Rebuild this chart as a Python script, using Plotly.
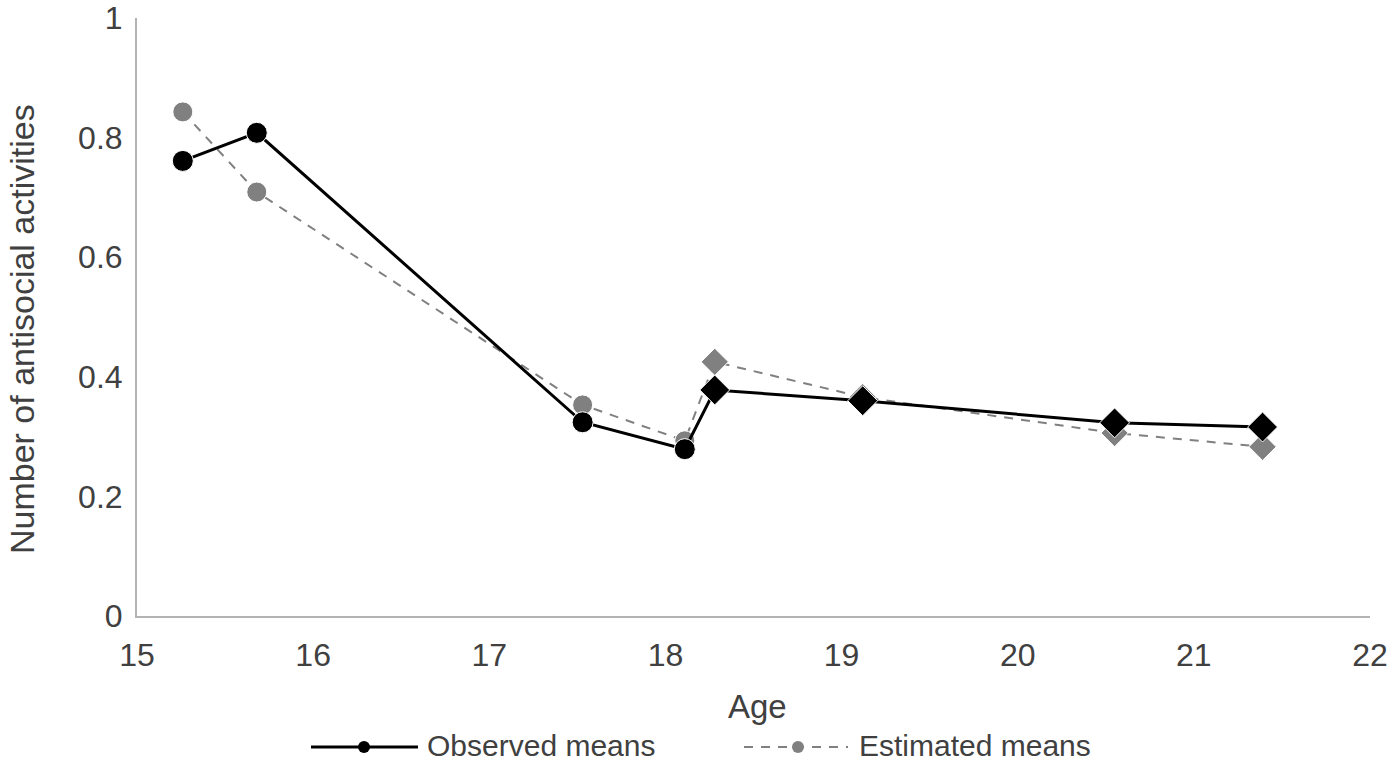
import plotly.graph_objects as go

ages = [15.26, 15.68, 17.53, 18.11, 18.28, 19.12, 20.55, 21.39]
observed = [0.761, 0.808, 0.324, 0.279, 0.378, 0.360, 0.323, 0.316]
estimated = [0.843, 0.709, 0.353, 0.293, 0.425, 0.366, 0.306, 0.283]
symbols = ["circle"] * 4 + ["diamond"] * 4
obs_sizes = [21] * 4 + [23] * 4
est_sizes = [20] * 4 + [21] * 4
x_ticks = [15, 16, 17, 18, 19, 20, 21, 22]
y_ticks = [0, 0.2, 0.4, 0.6, 0.8, 1]
y_tick_labels = ["0", "0.2", "0.4", "0.6", "0.8", "1"]
legend_labels = ["Observed means", "Estimated means"]

W, H = 1400, 764
L, R, T, B = 137, 30, 18, 148
PW, PH = W - L - R, H - T - B
FONT = "Liberation Sans, Arial, sans-serif"
TXT = "#404040"
GREY = "#808080"


def px_x(p):
    return (p - L) / PW


def px_y(p):
    return (H - B - p) / PH


fig = go.Figure()
fig.add_trace(go.Scatter(
    x=ages, y=estimated, mode="lines+markers", name=legend_labels[1],
    line=dict(color=GREY, width=2, dash="9px,8px"),
    marker=dict(color=GREY, symbol=symbols, size=est_sizes, opacity=1),
    showlegend=False,
))
fig.add_trace(go.Scatter(
    x=ages, y=observed, mode="lines+markers", name=legend_labels[0],
    line=dict(color="black", width=3),
    marker=dict(color="black", symbol=symbols, size=obs_sizes, opacity=1),
    showlegend=False,
))

shapes = []
annotations = []
ly = px_y(747)
ty = px_y(745)
# legend item 1
shapes.append(dict(type="line", xref="paper", yref="paper", x0=px_x(311), x1=px_x(418),
                   y0=ly, y1=ly, line=dict(color="black", width=3)))
shapes.append(dict(type="circle", xref="paper", yref="paper", xsizemode="pixel", ysizemode="pixel",
                   xanchor=px_x(364), yanchor=ly, x0=-6, x1=6, y0=-6, y1=6,
                   fillcolor="black", line=dict(color="black", width=0)))
annotations.append(dict(text=legend_labels[0], xref="paper", yref="paper", x=px_x(425), y=ty,
                        xanchor="left", yanchor="middle", showarrow=False,
                        font=dict(family=FONT, size=30, color=TXT)))
# legend item 2
shapes.append(dict(type="line", xref="paper", yref="paper", x0=px_x(744), x1=px_x(848),
                   y0=ly, y1=ly, line=dict(color=GREY, width=2, dash="9px,8px")))
shapes.append(dict(type="circle", xref="paper", yref="paper", xsizemode="pixel", ysizemode="pixel",
                   xanchor=px_x(798), yanchor=ly, x0=-6, x1=6, y0=-6, y1=6,
                   fillcolor=GREY, line=dict(color=GREY, width=0)))
annotations.append(dict(text=legend_labels[1], xref="paper", yref="paper", x=px_x(857), y=ty,
                        xanchor="left", yanchor="middle", showarrow=False,
                        font=dict(family=FONT, size=30, color=TXT)))
# axis titles
annotations.append(dict(text="Age", xref="paper", yref="paper", x=px_x(757), y=px_y(706),
                        xanchor="center", yanchor="middle", showarrow=False,
                        font=dict(family=FONT, size=33, color=TXT)))
annotations.append(dict(text="Number of antisocial activities", xref="paper", yref="paper",
                        x=px_x(22), y=px_y(329), textangle=-90,
                        xanchor="center", yanchor="middle", showarrow=False,
                        font=dict(family=FONT, size=34, color=TXT)))

fig.update_layout(
    width=W, height=H,
    margin=dict(l=L, r=R, t=T, b=B, autoexpand=False),
    paper_bgcolor="white", plot_bgcolor="white",
    font=dict(family=FONT, size=32, color=TXT),
    shapes=shapes, annotations=annotations,
    showlegend=False,
)
fig.update_xaxes(range=[15, 22], tickvals=x_ticks, showgrid=False, zeroline=False,
                 showline=True, linecolor="#b3b3b3", linewidth=2, ticks="",
                 ticklabelstandoff=10, automargin=False,
                 tickfont=dict(family=FONT, size=32, color=TXT))
fig.update_yaxes(range=[0, 1], tickvals=y_ticks, ticktext=y_tick_labels, showgrid=False,
                 zeroline=False, showline=True, linecolor="#b3b3b3", linewidth=2, ticks="",
                 ticklabelstandoff=6, automargin=False,
                 tickfont=dict(family=FONT, size=32, color=TXT))

fig.write_html("out.html", config={"displayModeBar": False},
               post_script="document.body.style.margin='0';document.body.style.overflow='hidden';")
